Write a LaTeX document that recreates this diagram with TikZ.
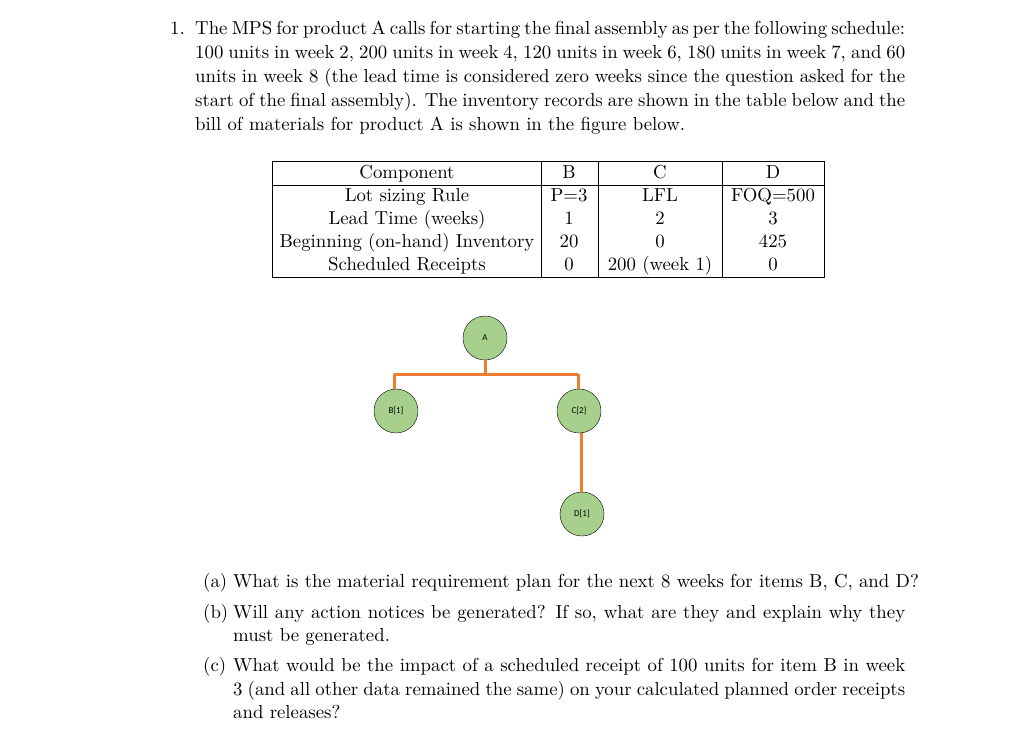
\documentclass[tikz,border=0pt]{standalone}
\usepackage{fontspec}
\newfontfamily\nodefont{Carlito}
\newfontfamily\tenfont{lmroman10-regular.otf}
\begin{document}
\begin{tikzpicture}[x=1pt,y=-1pt,
  ln/.style={anchor=base west,inner sep=0,font=\tenfont\fontsize{18.8}{24}\selectfont},
  tc/.style={anchor=base,inner sep=0,font=\tenfont\fontsize{18.8}{24}\selectfont},
  bub/.style={circle,draw=black,fill={rgb,255:red,168;green,208;blue,141},minimum size=44pt,inner sep=0,font=\nodefont\fontsize{9}{10}\selectfont},
  br/.style={draw={rgb,255:red,237;green,125;blue,49},line width=3pt}]
\useasboundingbox (0,0) rectangle (1024,731);
\newcommand{\fl}[1]{\makebox[710pt][s]{#1}}
\node[ln] (n1) at (170,34) {1.};
\node[ln] (l1) at (195,34) {\fl{The MPS for product A calls for starting the final assembly as per the following schedule:}};
\node[ln] (l2) at (195,58) {\fl{100 units in week 2, 200 units in week 4, 120 units in week 6, 180 units in week 7, and 60}};
\node[ln] (l3) at (195,82) {\fl{units in week 8 (the lead time is considered zero weeks since the question asked for the}};
\node[ln] (l4) at (195,106) {\fl{start of the final assembly). The inventory records are shown in the table below and the}};
\node[ln] (l5) at (195,130) {bill of materials for product A is shown in the figure below.};
% table
\draw (272,161) rectangle (824,277);
\draw (272,185) -- (824,185);
\foreach \x in {541,598,722} \draw (\x,161) -- (\x,277);
\node[tc] (h1) at (407,178) {Component};
\node[tc] (h2) at (569,178) {B};
\node[tc] (h3) at (660,178) {C};
\node[tc] (h4) at (773,178) {D};
\node[tc] (r11) at (407,201) {Lot sizing Rule};
\node[tc] (r12) at (569,201) {P=3};
\node[tc] (r13) at (660,201) {LFL};
\node[tc] (r14) at (773,201) {FOQ=500};
\node[tc] (r21) at (407,224) {Lead Time (weeks)};
\node[tc] (r22) at (569,224) {1};
\node[tc] (r23) at (660,224) {2};
\node[tc] (r24) at (773,224) {3};
\node[tc] (r31) at (407,247) {Beginning (on-hand) Inventory};
\node[tc] (r32) at (569,247) {20};
\node[tc] (r33) at (660,247) {0};
\node[tc] (r34) at (773,247) {425};
\node[tc] (r41) at (407,270) {Scheduled Receipts};
\node[tc] (r42) at (569,270) {0};
\node[tc] (r43) at (660,270) {200 (week 1)};
\node[tc] (r44) at (773,270) {0};
% tree
\coordinate (jA) at (485,374);
\coordinate (jB) at (394,374);
\coordinate (jC) at (578,374);
\node[bub] (A) at (485,338) {A};
\node[bub] (B) at (396,411) {B[1]};
\node[bub] (C) at (579,411) {C[2]};
\node[bub] (D) at (582,514) {D[1]};
\draw[br] (A.south) -- (jA);
\draw[br] (jB) -- (jC);
\draw[br] (jB) -- (jB|-B.north);
\draw[br] (jC) -- (jC|-C.north);
\draw[br] (C.south-|581,0) -- (D.north-|581,0);
% questions
\node[ln] (qa) at (203,587) {(a)};
\node[ln] (ta) at (233,587) {What is the material requirement plan for the next 8 weeks for items B, C, and D?};
\node[ln] (qb) at (203,618) {(b)};
\node[ln] (tb) at (233,618) {\makebox[672pt][s]{Will any action notices be generated? If so, what are they and explain why they}};
\node[ln] (tb2) at (233,641) {must be generated.};
\node[ln] (qc) at (203,671) {(c)};
\node[ln] (tc1) at (233,671) {\makebox[672pt][s]{What would be the impact of a scheduled receipt of 100 units for item B in week}};
\node[ln] (tc2) at (233,695) {\makebox[672pt][s]{3 (and all other data remained the same) on your calculated planned order receipts}};
\node[ln] (tc3) at (233,718) {and releases?};
\end{tikzpicture}
\end{document}
